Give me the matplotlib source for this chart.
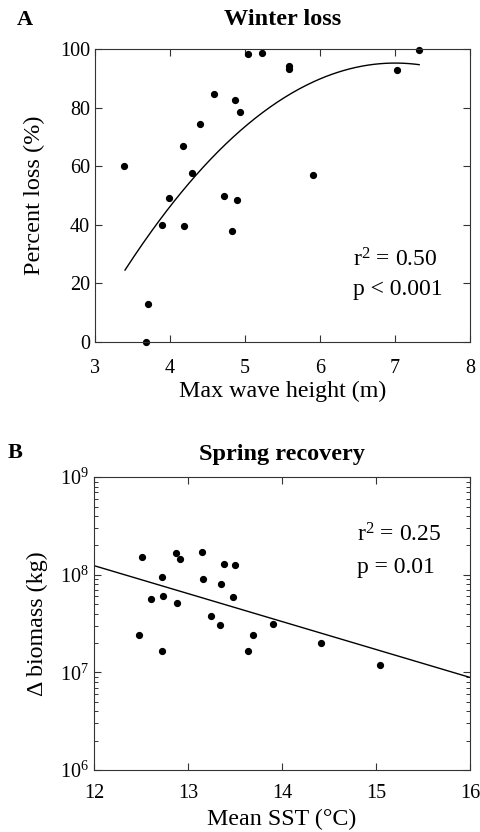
import numpy as np
import matplotlib
matplotlib.use("Agg")
import matplotlib.pyplot as plt
from matplotlib.ticker import LogLocator, LogFormatterMathtext, NullFormatter

plt.rcParams['font.family'] = ['Liberation Serif', 'DejaVu Serif']
plt.rcParams['mathtext.fontset'] = 'custom'
plt.rcParams['mathtext.rm'] = 'Liberation Serif'
plt.rcParams['mathtext.it'] = 'Liberation Serif:italic'

# panel A: winter loss vs max wave height
wave_height = [3.39, 3.68, 3.70, 3.89, 3.98, 4.17, 4.18, 4.29, 4.40, 4.58, 4.72,
               4.83, 4.86, 4.89, 4.93, 5.04, 5.22, 5.59, 5.59, 5.91, 7.03, 7.32]
pct_loss = [60.2, 0.0, 13.0, 40.0, 49.0, 67.0, 39.6, 57.7, 74.3, 84.8, 49.8,
            38.0, 82.7, 48.6, 78.4, 98.3, 98.6, 94.3, 93.2, 56.9, 92.8, 99.7]
# fitted curve, points
fit_x = [3.40, 3.70, 4.00, 4.50, 5.00, 5.50, 6.00, 6.50, 7.00, 7.32]
fit_y = [24.3, 36.5, 45.8, 61.5, 73.4, 83.1, 89.7, 94.0, 95.3, 94.6]

# panel B: spring recovery vs mean SST
sst = [12.51, 12.48, 12.61, 12.72, 12.72, 12.73, 12.87, 12.91, 12.88, 13.15, 13.16,
       13.24, 13.34, 13.35, 13.38, 13.48, 13.50, 13.64, 13.69, 13.90, 14.41, 15.04]
biomass = [1.53e8, 2.41e7, 5.68e7, 9.46e7, 1.66e7, 6.0e7, 1.69e8, 1.46e8, 5.08e7, 1.72e8, 8.96e7,
           3.77e7, 3.05e7, 8.09e7, 1.30e8, 5.91e7, 1.25e8, 1.66e7, 2.43e7, 3.12e7, 2.02e7, 1.18e7]
line_x = [12, 16]
line_y = [1.24e8, 8.87e6]

fig = plt.figure(figsize=(4.81, 8.32), dpi=100)
axA = fig.add_axes([0.1975, 0.589, 0.780, 0.352])
axB = fig.add_axes([0.1955, 0.0745, 0.782, 0.352])

for ax in (axA, axB):
    ax.tick_params(which='both', direction='in', top=True, right=True, labelsize=14.5,
                   color='#333333')
    ax.tick_params(which='major', length=5, width=0.8)
    ax.tick_params(which='minor', length=3, width=0.7)
    for s in ax.spines.values():
        s.set_linewidth(0.8)
        s.set_color('#333333')

# A
xs = np.linspace(fit_x[0], fit_x[-1], 200)
coef = np.polyfit(fit_x, fit_y, 3)
axA.plot(xs, np.polyval(coef, xs), color='black', lw=1.0)
axA.plot(wave_height, pct_loss, 'o', color='black', ms=4.2, clip_on=False)
axA.set_xlim(3, 8)
axA.set_ylim(0, 100)
axA.set_xticks([3, 4, 5, 6, 7, 8])
axA.set_yticks([0, 20, 40, 60, 80, 100])
axA.tick_params(axis='x', pad=12)
axA.set_xlabel('Max wave height (m)', fontsize=17.3, labelpad=2)
axA.set_ylabel('Percent loss (%)', fontsize=17.5, labelpad=11)
axA.set_title('Winter loss', fontsize=17.5, fontweight='bold', pad=17)
axA.text(6.44, 28, r'r$^2$ = 0.50', fontsize=17, va='center')
axA.text(6.44, 18, 'p < 0.001', fontsize=17, va='center')
fig.text(0.035, 0.976, 'A', fontsize=16, fontweight='bold', va='center')

# B
axB.semilogy(line_x, line_y, color='black', lw=1.0)
axB.semilogy(sst, biomass, 'o', color='black', ms=4.2)
axB.set_xlim(12, 16)
axB.set_ylim(1e6, 1e9)
axB.set_xticks([12, 13, 14, 15, 16])
axB.tick_params(axis='x', pad=10)
axB.yaxis.set_major_locator(LogLocator(base=10, numticks=10))
axB.yaxis.set_minor_locator(LogLocator(base=10, subs=np.arange(2, 10), numticks=20))
axB.yaxis.set_major_formatter(LogFormatterMathtext())
axB.yaxis.set_minor_formatter(NullFormatter())
axB.set_xlabel('Mean SST (\u00b0C)', fontsize=17.3, labelpad=4)
axB.set_ylabel('\u0394 biomass (kg)', fontsize=17.3, labelpad=9)
axB.set_title('Spring recovery', fontsize=17.5, fontweight='bold', pad=12)
axB.text(14.80, 2.57e8, r'r$^2$ = 0.25', fontsize=17, va='center')
axB.text(14.80, 1.2e8, 'p = 0.01', fontsize=17, va='center')
fig.text(0.015, 0.456, 'B', fontsize=16, fontweight='bold', va='center')

fig.savefig('out.png', dpi=100)
